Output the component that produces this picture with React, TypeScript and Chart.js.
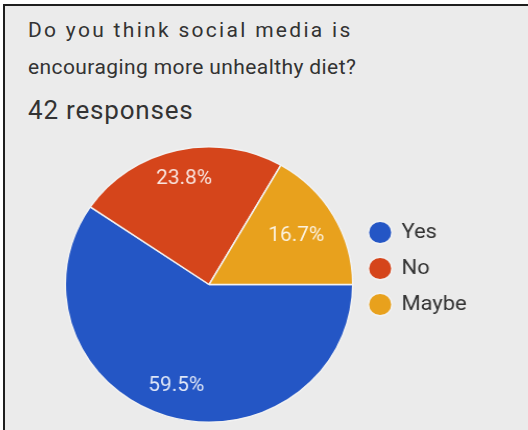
import React, { useEffect, useRef } from "react";
import { Chart, registerables } from "chart.js";

Chart.register(...registerables);

const titleLines = ["Do you think social media is", "encouraging more unhealthy diet?"];
const responsesText = "42 responses";
const categories = ["Yes", "No", "Maybe"];
const counts = [25, 10, 7];
const colors = ["#2456c5", "#d5451b", "#e8a11d"];

const FONT = "Roboto, 'Noto Sans', sans-serif";
const STRETCH = 1.044;
const CANVAS_W = 438;
const CANVAS_H = 277;
const PIE_AREA_W = 278;

const sliceLabels = {
  id: "sliceLabels",
  afterDatasetsDraw(chart: any) {
    const ctx = chart.ctx;
    const meta = chart.getDatasetMeta(0);
    const data = chart.data.datasets[0].data as number[];
    const total = data.reduce((a, b) => a + b, 0);
    ctx.save();
    ctx.font = `20px ${FONT}`;
    ctx.fillStyle = "rgba(255,255,255,0.86)";
    ctx.textAlign = "center";
    ctx.textBaseline = "middle";
    meta.data.forEach((el: any, i: number) => {
      const { x, y, startAngle, endAngle, outerRadius } = el.getProps(
        ["x", "y", "startAngle", "endAngle", "outerRadius"],
        true
      );
      const pct = ((data[i] / total) * 100).toFixed(1) + "%";
      const mid = (startAngle + endAngle) / 2;
      const c = Math.cos(mid);
      const s = Math.sin(mid);
      const hw = ctx.measureText(pct).width / 2;
      const hh = 8;
      const a = Math.sign(c) * hw;
      const b = Math.sign(s) * hh;
      const R = outerRadius * 0.9;
      const k = c * a + s * b;
      const d = -k + Math.sqrt(k * k - (a * a + b * b - R * R));
      ctx.fillText(pct, x + c * d, y + s * d);
    });
    ctx.restore();
  },
};

const legendShift = {
  id: "legendShift",
  afterLayout(chart: any) {
    if (chart.legend) {
      chart.legend.bottom -= 32;
    }
  },
};

export default function App() {
  const ref = useRef<HTMLCanvasElement | null>(null);

  useEffect(() => {
    document.body.style.margin = "0";
    if (!ref.current) return;
    const chart: any = new Chart(ref.current, {
      type: "pie",
      data: {
        labels: categories,
        datasets: [
          {
            data: counts,
            backgroundColor: colors,
            borderColor: "#f2f2f2",
            borderWidth: 1.5,
          },
        ],
      },
      options: {
        responsive: false,
        animation: false,
        rotation: 90,
        layout: { padding: { left: 0, top: 0, bottom: 0, right: 40 } },
        plugins: {
          tooltip: { enabled: false },
          legend: {
            display: true,
            position: "right",
            labels: {
              usePointStyle: true,
              pointStyle: "circle",
              boxWidth: 20,
              boxHeight: 16,
              padding: 15,
              color: "#333333",
              font: { family: FONT, size: 21 },
            },
          },
        },
      },
      plugins: [sliceLabels, legendShift],
    });
    // keep the pie's area at a fixed width whatever the legend's measured width
    for (let i = 0; i < 3; i++) {
      const diff = chart.chartArea.width - PIE_AREA_W;
      if (Math.abs(diff) < 0.5) break;
      const pad = chart.options.layout.padding;
      pad.right = Math.max(0, pad.right + diff);
      chart.update();
    }
    return () => chart.destroy();
  }, []);

  const textStyle: React.CSSProperties = {
    position: "absolute",
    left: 28,
    fontFamily: FONT,
    color: "#333333",
    whiteSpace: "nowrap",
    lineHeight: 1,
  };

  return (
    <div
      style={{
        position: "absolute",
        left: 0,
        top: 0,
        width: 528,
        height: 430,
        background: "#ffffff",
        overflow: "hidden",
      }}
    >
      <div
        style={{
          position: "absolute",
          left: 3,
          top: 4,
          width: 525,
          height: 426,
          boxSizing: "border-box",
          borderLeft: "2px solid #1e1e1e",
          borderTop: "2px solid #1e1e1e",
          background: "#ebebeb",
        }}
      />
      <div style={{ ...textStyle, top: 20, fontSize: 21, letterSpacing: 2.3 }}>{titleLines[0]}</div>
      <div style={{ ...textStyle, top: 57, fontSize: 21, letterSpacing: 0.4 }}>{titleLines[1]}</div>
      <div style={{ ...textStyle, top: 97, fontSize: 26, letterSpacing: 0.8 }}>{responsesText}</div>
      <canvas
        ref={ref}
        width={CANVAS_W}
        height={CANVAS_H}
        style={{
          position: "absolute",
          left: 64,
          top: 146,
          width: CANVAS_W * STRETCH,
          height: CANVAS_H,
        }}
      />
    </div>
  );
}
